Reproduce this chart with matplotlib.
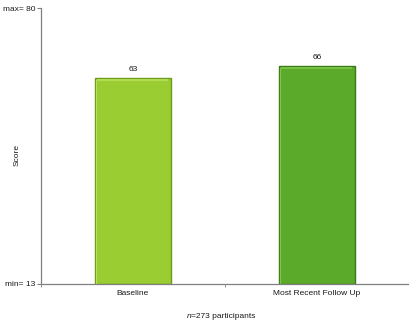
import matplotlib
matplotlib.use('Agg')
import matplotlib.pyplot as plt
import numpy as np

# Data
CATEGORIES = ['Baseline', 'Most Recent Follow Up']
SCORES = [63, 66]
Y_MIN = 13
Y_MAX = 80
N_PARTICIPANTS = 273

FILL = ['#9ACD32', '#5BAA2A']
EDGE = ['#6E9A1E', '#3C7A18']
HILITE = ['#B8E05A', '#7CC64A']
TEXT = '#1a1a1a'
FS = 6


def main():
    plt.rcParams.update({'font.family': 'Liberation Sans', 'font.size': FS,
                         'text.color': TEXT})

    fig = plt.figure(figsize=(4.10, 3.26), dpi=100)
    ax = fig.add_axes([0.10, 0.129, 0.897, 0.846])

    x = np.arange(len(CATEGORIES))
    width = 0.41
    bottom = Y_MIN
    heights = [s - bottom for s in SCORES]
    bars = ax.bar(x, heights, width, bottom=bottom, color=FILL,
                  edgecolor=EDGE, linewidth=1.0, zorder=2)

    # bevel-ish highlight along top and left edges
    for i, bar in enumerate(bars):
        x0 = bar.get_x()
        x1 = x0 + bar.get_width()
        top = SCORES[i]
        ax.plot([x0 + 0.01, x1 - 0.012], [top - 0.5, top - 0.5],
                color=HILITE[i], lw=1.2, zorder=3, solid_capstyle='butt')
        ax.plot([x0 + 0.006, x0 + 0.006], [bottom + 0.3, top - 0.5],
                color=HILITE[i], lw=0.8, zorder=3)
        ax.text(bar.get_x() + bar.get_width() / 2, top + 1.2, f'{SCORES[i]}',
                ha='center', va='bottom', fontsize=FS, color=TEXT)

    ax.set_xlim(-0.5, len(CATEGORIES) - 0.5)
    ax.set_ylim(Y_MIN, Y_MAX)
    ax.set_yticks([Y_MIN, Y_MAX])
    ax.set_yticklabels([f'min= {Y_MIN}', f'max= {Y_MAX}'])
    ax.set_xticks(x)
    ax.set_xticklabels(CATEGORIES)
    ax.set_xticks(np.arange(-0.5, len(CATEGORIES), 1.0), minor=True)
    ax.tick_params(axis='x', which='major', length=0, pad=4, labelsize=FS,
                   labelcolor=TEXT)
    ax.tick_params(axis='x', which='minor', length=2, color='#808080')
    ax.tick_params(axis='y', length=3, color='#808080', pad=1, labelsize=FS,
                   labelcolor=TEXT)

    for s in ['top', 'right']:
        ax.spines[s].set_visible(False)
    for s in ['left', 'bottom']:
        ax.spines[s].set_color('#808080')
        ax.spines[s].set_linewidth(0.9)

    fig.text(17 / 410, 1 - 155 / 326, 'Score', rotation=90,
             ha='center', va='center', fontsize=FS)
    # footnote: italic "n" followed by the count
    split = 191 / 410
    ypos = 1 - 316 / 326
    fig.text(split, ypos, 'n', style='italic', ha='right', va='center',
             fontsize=FS)
    fig.text(split, ypos, f'={N_PARTICIPANTS} participants', ha='left',
             va='center', fontsize=FS)

    fig.savefig('out.png', dpi=100, facecolor='white')
    plt.close(fig)


if __name__ == '__main__':
    main()
